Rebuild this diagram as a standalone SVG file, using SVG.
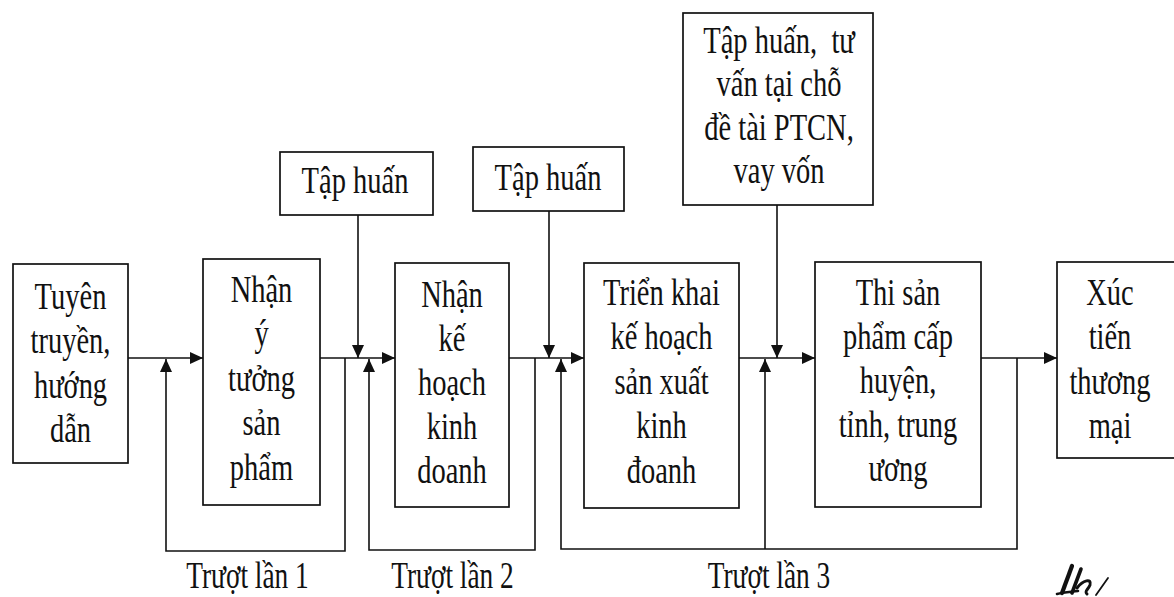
<svg xmlns="http://www.w3.org/2000/svg" width="1174" height="597" viewBox="0 0 1174 597">
  <style>
    .box { fill: #fff; stroke: #111; stroke-width: 1.7; }
    .lbl { font-family: "Liberation Serif", "Times New Roman", serif; font-size: 37px; fill: #111; text-anchor: middle; }
    .ln { fill: none; stroke: #111; stroke-width: 1.6; }
    .sig { fill: none; stroke: #111; stroke-width: 3.6; stroke-linecap: round; stroke-linejoin: round; }
  </style>
  <defs>
    <marker id="arr" markerUnits="userSpaceOnUse" markerWidth="14" markerHeight="12" refX="13" refY="6" orient="auto">
      <path d="M0,0 L13,6 L0,12 z" fill="#111"/>
    </marker>
  </defs>
  <rect width="1174" height="597" fill="#fff"/>

  <!-- connectors -->
  <g id="connectors">
    <!-- main flow -->
    <line class="ln" x1="128" y1="358" x2="203" y2="358" marker-end="url(#arr)"/>
    <line class="ln" x1="320" y1="358" x2="395" y2="358" marker-end="url(#arr)"/>
    <line class="ln" x1="509" y1="358" x2="584" y2="358" marker-end="url(#arr)"/>
    <line class="ln" x1="739" y1="358" x2="815" y2="358" marker-end="url(#arr)"/>
    <line class="ln" x1="981" y1="358" x2="1057" y2="358" marker-end="url(#arr)"/>
    <!-- training inputs from above -->
    <line class="ln" x1="358" y1="215" x2="358" y2="358" marker-end="url(#arr)"/>
    <line class="ln" x1="549" y1="211" x2="549" y2="358" marker-end="url(#arr)"/>
    <line class="ln" x1="777" y1="205" x2="777" y2="358" marker-end="url(#arr)"/>
    <!-- loop 1 -->
    <polyline class="ln" points="345,358 345,551 166,551 166,359" marker-end="url(#arr)"/>
    <!-- loop 2 -->
    <polyline class="ln" points="535,358 535,550 369,550 369,359" marker-end="url(#arr)"/>
    <!-- loop 3 -->
    <polyline class="ln" points="1017,358 1017,549 561,549 561,359" marker-end="url(#arr)"/>
    <line class="ln" x1="765" y1="549" x2="765" y2="359" marker-end="url(#arr)"/>
  </g>

  <g id="n-tuyen-truyen">
    <rect class="box" x="13" y="264" width="115" height="199"/>
    <g transform="translate(70.5,0) scale(0.77,1)">
      <text class="lbl" x="0" y="309">Tuyên</text>
      <text class="lbl" x="0" y="353.5">truyền,</text>
      <text class="lbl" x="0" y="398">hướng</text>
      <text class="lbl" x="0" y="442.5">dẫn</text>
    </g>
  </g>

  <g id="n-y-tuong">
    <rect class="box" x="203" y="259" width="117" height="246"/>
    <g transform="translate(261.5,0) scale(0.77,1)">
      <text class="lbl" x="0" y="302">Nhận</text>
      <text class="lbl" x="0" y="346.5">ý</text>
      <text class="lbl" x="0" y="391">tưởng</text>
      <text class="lbl" x="0" y="435.5">sản</text>
      <text class="lbl" x="0" y="480">phẩm</text>
    </g>
  </g>

  <g id="n-ke-hoach">
    <rect class="box" x="395" y="263" width="114" height="244"/>
    <g transform="translate(452,0) scale(0.77,1)">
      <text class="lbl" x="0" y="307">Nhận</text>
      <text class="lbl" x="0" y="351">kế</text>
      <text class="lbl" x="0" y="395">hoạch</text>
      <text class="lbl" x="0" y="439">kinh</text>
      <text class="lbl" x="0" y="483">doanh</text>
    </g>
  </g>

  <g id="n-trien-khai">
    <rect class="box" x="584" y="263" width="155" height="245"/>
    <g transform="translate(661.5,0) scale(0.77,1)">
      <text class="lbl" x="0" y="305">Triển khai</text>
      <text class="lbl" x="0" y="349.5">kế hoạch</text>
      <text class="lbl" x="0" y="394">sản xuất</text>
      <text class="lbl" x="0" y="438.5">kinh</text>
      <text class="lbl" x="0" y="483">đoanh</text>
    </g>
  </g>

  <g id="n-thi-san-pham">
    <rect class="box" x="815" y="262" width="166" height="245"/>
    <g transform="translate(898,0) scale(0.77,1)">
      <text class="lbl" x="0" y="305">Thi sản</text>
      <text class="lbl" x="0" y="349">phẩm cấp</text>
      <text class="lbl" x="0" y="393">huyện,</text>
      <text class="lbl" x="0" y="437">tỉnh, trung</text>
      <text class="lbl" x="0" y="481">ương</text>
    </g>
  </g>

  <g id="n-xuc-tien">
    <rect class="box" x="1057" y="262" width="130" height="196"/>
    <g transform="translate(1110,0) scale(0.77,1)">
      <text class="lbl" x="0" y="305">Xúc</text>
      <text class="lbl" x="0" y="349.5">tiến</text>
      <text class="lbl" x="0" y="394">thương</text>
      <text class="lbl" x="0" y="438.5">mại</text>
    </g>
  </g>

  <g id="n-tap-huan-1">
    <rect class="box" x="280" y="152" width="153" height="63"/>
    <g transform="translate(355,0) scale(0.77,1)">
      <text class="lbl" x="0" y="193">Tập huấn</text>
    </g>
  </g>

  <g id="n-tap-huan-2">
    <rect class="box" x="473" y="147" width="151" height="64"/>
    <g transform="translate(548,0) scale(0.77,1)">
      <text class="lbl" x="0" y="190">Tập huấn</text>
    </g>
  </g>

  <g id="n-tu-van">
    <rect class="box" x="683" y="13" width="190" height="192"/>
    <g transform="translate(779,0) scale(0.77,1)">
      <text class="lbl" x="0" y="53" xml:space="preserve">Tập huấn,  tư</text>
      <text class="lbl" x="0" y="96.5">vấn tại chỗ</text>
      <text class="lbl" x="0" y="140">đề tài PTCN,</text>
      <text class="lbl" x="0" y="183">vay vốn</text>
    </g>
  </g>

  <!-- loop labels -->
  <g id="loop-labels">
    <g transform="translate(247.5,0) scale(0.74,1)">
      <text class="lbl" x="0" y="588">Trượt lần 1</text>
    </g>
    <g transform="translate(452.5,0) scale(0.74,1)">
      <text class="lbl" x="0" y="588">Trượt lần 2</text>
    </g>
    <g transform="translate(769,0) scale(0.74,1)">
      <text class="lbl" x="0" y="588">Trượt lần 3</text>
    </g>
  </g>

  <!-- handwritten initials -->
  <g id="initials">
    <path class="sig" d="M1072,566 L1062,593" style="stroke-width:4.2"/>
    <path class="sig" d="M1081,569 L1072,593"/>
    <path class="sig" d="M1057,594 C1064,592 1070,592 1078,591" style="stroke-width:2.6"/>
    <path class="sig" d="M1077,588 C1083,580 1092,578 1090,585 C1088,590 1084,591 1087,594" style="stroke-width:3"/>
    <path class="sig" d="M1108,578 L1096,595" style="stroke-width:1.8"/>
  </g>
</svg>
